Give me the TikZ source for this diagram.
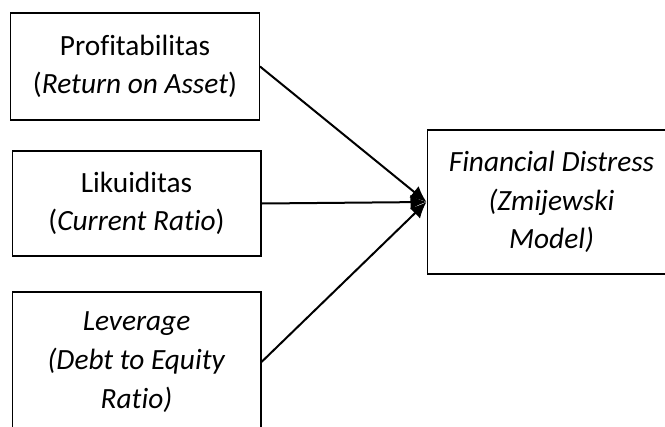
\documentclass[tikz,border=0pt]{standalone}
\usepackage{fontspec}
\setmainfont{Carlito}[Ligatures=NoCommon]
\usetikzlibrary{arrows.meta}

\begin{document}
\begin{tikzpicture}[x=0.75pt,y=0.75pt,
  box/.style={draw,line width=1pt,minimum width=186.5pt,align=center,inner sep=0pt,
    font=\fontsize{22}{29}\selectfont},
  arr/.style={line width=1.5pt,-{Latex[length=12pt,width=11pt]}}]
  \clip (0,0) rectangle (665,-426);
  \node[box,minimum height=80.25pt] (roa) at (135,-66.5) {Profitabilitas\\(\textit{Return on Asset})};
  \node[box,minimum height=78.75pt] (cr) at (136.5,-203.5) {Likuiditas\\(\textit{Current Ratio})};
  \node[box,minimum height=105pt] (der) at (136.5,-362) {\textit{Leverage}\\\textit{(Debt to Equity}\\\textit{Ratio)}};
  \node[box,minimum height=108pt] (fd) at (551.5,-202) {\textit{Financial Distress}\\\textit{(Zmijewski}\\\textit{Model)}};
  \draw[arr] (roa.east) -- (fd.west);
  \draw[arr] (cr.east) -- (fd.west);
  \draw[arr] (der.east) -- (fd.west);
\end{tikzpicture}
\end{document}
